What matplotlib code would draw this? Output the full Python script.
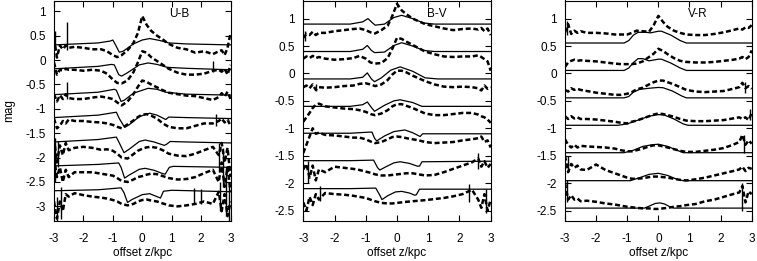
import matplotlib
matplotlib.use('Agg')
import matplotlib.pyplot as plt

plt.rcParams['font.family'] = ['Liberation Sans', 'DejaVu Sans']
plt.rcParams['axes.unicode_minus'] = False

# positions of the sampled observed profiles (kpc)
z_obs = [-3.0, -2.9, -2.8, -2.7, -2.6, -2.5, -2.3, -2.0, -1.7, -1.4, -1.2, -1.0, -0.85,
         -0.7, -0.5, -0.3, -0.15, 0.0, 0.15, 0.3, 0.5, 0.7, 0.9, 1.2, 1.5, 1.8, 2.1,
         2.4, 2.6, 2.7, 2.8, 2.9, 3.0]

# ---- U-B ----
ub_obs = [
    [0.45, 0.05, 0.3, 0.22, 0.3, 0.25, 0.27, 0.25, 0.22, 0.22, 0.18, 0.1, 0.06, 0.1, 0.2, 0.35, 0.55,
     0.9, 0.72, 0.6, 0.5, 0.42, 0.33, 0.25, 0.22, 0.15, 0.18, 0.12, 0.18, 0.2, 0.1, 0.25, 0.55],
    [-0.05, -0.3, -0.2, -0.22, -0.18, -0.2, -0.2, -0.22, -0.2, -0.22, -0.28, -0.4, -0.47, -0.48, -0.42,
     -0.25, -0.05, 0.18, 0.15, 0.06, -0.02, -0.1, -0.18, -0.26, -0.3, -0.3, -0.28, -0.22, -0.2, -0.24,
     -0.18, -0.3, -0.1],
    [-0.7, -0.85, -0.72, -0.8, -0.7, -0.78, -0.8, -0.8, -0.77, -0.75, -0.77, -0.8, -0.87, -0.93, -0.85,
     -0.7, -0.55, -0.42, -0.45, -0.5, -0.56, -0.62, -0.67, -0.7, -0.73, -0.74, -0.78, -0.82, -0.76,
     -0.68, -0.75, -0.65, -0.8],
    [-1.2, -1.4, -1.35, -1.25, -1.3, -1.22, -1.25, -1.25, -1.27, -1.28, -1.3, -1.33, -1.37, -1.4, -1.32,
     -1.24, -1.17, -1.12, -1.11, -1.14, -1.2, -1.3, -1.37, -1.4, -1.4, -1.35, -1.3, -1.3, -1.25, -1.2,
     -1.28, -1.22, -1.35],
    [-1.6, -2.1, -1.75, -1.95, -1.7, -1.85, -1.8, -1.78, -1.8, -1.84, -1.83, -1.86, -1.92, -2.0, -2.02,
     -1.93, -1.86, -1.82, -1.79, -1.78, -1.8, -1.85, -1.92, -1.96, -1.97, -1.92, -1.85, -1.78, -1.95,
     -1.7, -2.1, -1.8, -2.4],
    [-2.0, -2.4, -2.2, -2.5, -2.25, -2.4, -2.3, -2.3, -2.3, -2.33, -2.35, -2.37, -2.42, -2.48, -2.5,
     -2.45, -2.4, -2.38, -2.35, -2.33, -2.34, -2.38, -2.42, -2.45, -2.44, -2.4, -2.32, -2.25, -2.5,
     -2.1, -2.6, -2.2, -2.7],
    [-2.9, -3.25, -2.9, -3.1, -2.75, -2.8, -2.73, -2.77, -2.8, -2.82, -2.84, -2.87, -2.9, -2.95, -2.98,
     -2.95, -2.9, -2.87, -2.86, -2.88, -2.9, -2.94, -2.98, -3.0, -2.98, -2.95, -2.9, -2.95, -2.7,
     -3.1, -2.75, -3.2, -2.9],
]
ub_mod_z = [
    [-3, -1.5, -1.08, -1.0, -0.9, -0.78, -0.65, -0.3, 0.0, 0.25, 0.6, 0.9, 1.5, 3],
    [-3, -1.5, -1.05, -0.95, -0.8, -0.7, -0.5, -0.1, 0.2, 0.5, 0.85, 1.5, 3],
    [-3, -1.5, -0.95, -0.88, -0.72, -0.6, -0.3, 0.2, 0.5, 0.8, 1.5, 3],
    [-3, -1.5, -0.88, -0.78, -0.6, -0.45, -0.1, 0.25, 0.5, 0.8, 0.9, 1.5, 3],
    [-3, -1.5, -0.88, -0.78, -0.62, -0.45, -0.1, 0.1, 0.4, 0.75, 0.82, 0.95, 1.5, 3],
    [-3, -1.5, -0.8, -0.72, -0.6, -0.45, -0.1, 0.1, 0.4, 0.7, 0.78, 0.92, 1.05, 3],
    [-3, -1.5, -0.72, -0.62, -0.5, -0.35, 0.0, 0.25, 0.5, 0.62, 0.72, 1.0, 3],
]
ub_mod = [
    [0.31, 0.35, 0.39, 0.41, 0.3, 0.16, 0.18, 0.33, 0.41, 0.44, 0.4, 0.35, 0.33, 0.31],
    [-0.18, -0.13, -0.09, -0.1, -0.3, -0.33, -0.26, -0.1, -0.06, -0.09, -0.15, -0.17, -0.2],
    [-0.71, -0.66, -0.6, -0.62, -0.85, -0.82, -0.68, -0.58, -0.6, -0.66, -0.7, -0.72],
    [-1.18, -1.13, -1.07, -1.2, -1.38, -1.33, -1.16, -1.09, -1.13, -1.22, -1.17, -1.18, -1.2],
    [-1.68, -1.63, -1.58, -1.7, -1.9, -1.83, -1.67, -1.64, -1.68, -1.75, -1.73, -1.67, -1.68, -1.7],
    [-2.17, -2.14, -2.11, -2.2, -2.42, -2.36, -2.24, -2.22, -2.26, -2.33, -2.34, -2.2, -2.18, -2.2],
    [-2.68, -2.66, -2.62, -2.72, -2.92, -2.86, -2.76, -2.74, -2.8, -2.83, -2.69, -2.67, -2.7],
]
# noise spikes in the observed U-B profiles: z, low, high
ub_spikes = [(-2.55, 0.2, 0.78), (-2.55, -0.8, -0.45), (2.4, -0.25, -0.02), (2.5, -1.35, -1.1),
             (-2.95, -2.5, -1.6), (-2.85, -2.2, -1.65), (-2.75, -3.25, -2.6), (-2.9, -3.3, -2.8),
             (1.75, -2.95, -2.62), (2.0, -2.95, -2.65), (2.6, -2.3, -1.7), (2.75, -2.6, -1.8),
             (2.85, -3.2, -2.2), (2.95, -3.3, -2.5), (2.65, -3.1, -2.5), (-2.97, 0.2, 0.6)]

# ---- B-V ----
bv_obs = [
    [0.65, 0.72, 0.7, 0.76, 0.7, 0.74, 0.74, 0.77, 0.79, 0.81, 0.82, 0.79, 0.75, 0.73, 0.79, 0.87, 1.05,
     1.27, 1.15, 1.08, 1.0, 0.95, 0.9, 0.86, 0.82, 0.79, 0.81, 0.82, 0.8, 0.83, 0.77, 0.82, 0.7],
    [0.27, 0.31, 0.28, 0.32, 0.28, 0.3, 0.27, 0.25, 0.26, 0.28, 0.32, 0.27, 0.2, 0.18, 0.19, 0.28, 0.45,
     0.65, 0.63, 0.58, 0.52, 0.46, 0.4, 0.35, 0.31, 0.3, 0.31, 0.31, 0.33, 0.3, 0.26, 0.22, 0.05],
    [-0.25, -0.22, -0.27, -0.2, -0.3, -0.25, -0.26, -0.25, -0.23, -0.22, -0.19, -0.18, -0.2, -0.23,
     -0.2, -0.12, -0.02, 0.05, 0.05, 0.02, -0.04, -0.09, -0.14, -0.2, -0.24, -0.25, -0.24, -0.25,
     -0.27, -0.31, -0.22, -0.28, -0.25],
    [-0.88, -0.8, -0.72, -0.63, -0.57, -0.55, -0.6, -0.62, -0.64, -0.65, -0.67, -0.7, -0.74, -0.76,
     -0.73, -0.67, -0.6, -0.56, -0.56, -0.59, -0.63, -0.68, -0.73, -0.76, -0.76, -0.74, -0.72, -0.72,
     -0.75, -0.78, -0.8, -0.84, -0.9],
    [-1.45, -1.3, -1.15, -1.0, -1.1, -1.08, -1.12, -1.13, -1.15, -1.17, -1.17, -1.2, -1.24, -1.27,
     -1.25, -1.2, -1.16, -1.15, -1.16, -1.18, -1.2, -1.22, -1.25, -1.27, -1.26, -1.25, -1.22, -1.2,
     -1.18, -1.15, -1.25, -1.22, -1.35],
    [-1.75, -1.65, -1.9, -1.68, -1.95, -1.75, -1.8, -1.7, -1.72, -1.74, -1.76, -1.79, -1.81, -1.84,
     -1.86, -1.86, -1.85, -1.84, -1.83, -1.82, -1.82, -1.84, -1.86, -1.85, -1.8, -1.74, -1.68, -1.62,
     -1.55, -1.7, -1.6, -1.72, -1.65],
    [-2.35, -2.5, -2.25, -2.4, -2.2, -2.3, -2.18, -2.2, -2.21, -2.23, -2.25, -2.27, -2.3, -2.33, -2.36,
     -2.37, -2.37, -2.36, -2.35, -2.34, -2.33, -2.32, -2.31, -2.29, -2.27, -2.24, -2.2, -2.12, -2.3,
     -2.45, -2.2, -2.5, -2.3],
]
bv_mod_z = [
    [-3, -1.5, -1.1, -0.93, -0.8, -0.7, -0.4, -0.1, 0.15, 0.5, 0.85, 1.2, 3],
    [-3, -1.5, -1.1, -0.95, -0.82, -0.72, -0.4, -0.1, 0.15, 0.5, 0.85, 1.2, 3],
    [-3, -1.5, -1.1, -0.95, -0.82, -0.72, -0.5, -0.2, 0.1, 0.5, 0.9, 1.3, 3],
    [-3, -1.5, -1.1, -0.95, -0.82, -0.72, -0.4, -0.1, 0.1, 0.5, 0.8, 0.9, 3],
    [-3, -1.5, -0.9, -0.8, -0.72, -0.65, -0.4, -0.1, 0.25, 0.5, 0.74, 0.82, 1.0, 3],
    [-3, -1.5, -0.75, -0.62, -0.55, -0.35, -0.1, 0.1, 0.4, 0.65, 0.72, 0.8, 3],
    [-3, -1.5, -0.68, -0.55, -0.48, -0.3, -0.05, 0.15, 0.4, 0.57, 0.62, 0.72, 3],
]
bv_mod = [
    [0.9, 0.9, 0.94, 1.0, 0.93, 0.88, 0.9, 1.02, 1.06, 1.0, 0.92, 0.9, 0.9],
    [0.4, 0.4, 0.44, 0.51, 0.42, 0.38, 0.39, 0.51, 0.56, 0.5, 0.42, 0.4, 0.4],
    [-0.1, -0.1, -0.07, 0.01, -0.1, -0.15, -0.08, 0.06, 0.12, 0.04, -0.08, -0.1, -0.1],
    [-0.6, -0.6, -0.57, -0.52, -0.62, -0.69, -0.58, -0.5, -0.48, -0.53, -0.6, -0.6, -0.6],
    [-1.09, -1.09, -1.07, -1.07, -1.18, -1.23, -1.14, -1.06, -1.03, -1.08, -1.15, -1.1, -1.1, -1.1],
    [-1.59, -1.59, -1.58, -1.72, -1.76, -1.7, -1.63, -1.61, -1.64, -1.69, -1.69, -1.61, -1.6],
    [-2.1, -2.1, -2.09, -2.22, -2.3, -2.23, -2.16, -2.15, -2.18, -2.22, -2.21, -2.11, -2.11],
]
bv_spikes = [(-2.95, 0.6, 0.78), (-2.45, -2.32, -2.05), (2.3, -2.35, -2.02), (2.6, -1.75, -1.45),
             (2.85, -2.55, -2.1), (-2.85, -2.0, -1.6), (-2.6, -0.32, -0.2)]

# ---- V-R ----
vr_obs = [
    [0.75, 0.9, 0.72, 0.78, 0.74, 0.77, 0.74, 0.74, 0.73, 0.71, 0.71, 0.71, 0.74, 0.78, 0.77, 0.76,
     0.88, 1.05, 0.94, 0.85, 0.78, 0.74, 0.71, 0.7, 0.7, 0.72, 0.75, 0.79, 0.82, 0.8, 0.84, 0.83, 0.88],
    [0.12, 0.2, 0.23, 0.25, 0.23, 0.24, 0.23, 0.22, 0.2, 0.18, 0.17, 0.17, 0.17, 0.18, 0.22, 0.3, 0.36,
     0.45, 0.41, 0.35, 0.28, 0.23, 0.21, 0.2, 0.2, 0.21, 0.23, 0.25, 0.27, 0.3, 0.26, 0.3, 0.42],
    [-0.3, -0.33, -0.27, -0.3, -0.28, -0.3, -0.32, -0.35, -0.37, -0.39, -0.39, -0.37, -0.34, -0.29,
     -0.26, -0.2, -0.16, -0.13, -0.13, -0.16, -0.2, -0.25, -0.3, -0.33, -0.34, -0.33, -0.32, -0.28,
     -0.25, -0.17, -0.27, -0.23, -0.28],
    [-0.78, -0.83, -0.78, -0.82, -0.8, -0.83, -0.83, -0.84, -0.86, -0.88, -0.9, -0.91, -0.88, -0.86,
     -0.82, -0.78, -0.75, -0.73, -0.74, -0.76, -0.79, -0.83, -0.86, -0.87, -0.87, -0.86, -0.85, -0.82,
     -0.8, -0.83, -0.8, -0.85, -0.72],
    [-1.2, -1.3, -1.35, -1.3, -1.35, -1.32, -1.33, -1.34, -1.35, -1.37, -1.4, -1.42, -1.42, -1.4,
     -1.37, -1.33, -1.31, -1.31, -1.33, -1.35, -1.38, -1.41, -1.43, -1.43, -1.41, -1.39, -1.36, -1.3,
     -1.25, -1.12, -1.3, -1.22, -1.28],
    [-1.5, -1.8, -1.65, -1.72, -1.68, -1.75, -1.76, -1.66, -1.76, -1.82, -1.86, -1.9, -1.92, -1.92,
     -1.91, -1.89, -1.88, -1.88, -1.89, -1.9, -1.92, -1.94, -1.95, -1.93, -1.9, -1.86, -1.82, -1.78,
     -1.75, -1.7, -1.78, -1.72, -1.74],
    [-2.0, -2.3, -2.22, -2.3, -2.28, -2.33, -2.32, -2.34, -2.37, -2.39, -2.41, -2.43, -2.44, -2.45,
     -2.46, -2.46, -2.47, -2.47, -2.46, -2.45, -2.43, -2.42, -2.4, -2.38, -2.33, -2.3, -2.25, -2.2,
     -2.17, -2.05, -2.35, -2.15, -2.2],
]
vr_mod_z = [
    [-3, -1.1, -0.95, -0.8, -0.65, -0.4, -0.25, 0.0, 0.1, 0.4, 0.7, 0.9, 3],
    [-3, -1.1, -0.95, -0.8, -0.65, -0.5, -0.3, 0.0, 0.1, 0.4, 0.7, 0.9, 3],
    [-3, -1.1, -0.95, -0.8, -0.6, -0.3, 0.0, 0.15, 0.45, 0.75, 0.9, 3],
    [-3, -1.3, -1.0, -0.6, -0.3, 0.0, 0.2, 0.5, 0.8, 0.95, 3],
    [-3, -1.1, -0.8, -0.5, -0.2, 0.0, 0.3, 0.6, 0.8, 3],
    [-3, -0.9, -0.6, -0.3, 0.0, 0.3, 0.6, 0.8, 3],
    [-3, -0.45, -0.3, -0.1, 0.05, 0.2, 0.4, 0.5, 3],
]
vr_mod = [
    [0.555, 0.555, 0.6, 0.7, 0.75, 0.75, 0.74, 0.77, 0.77, 0.7, 0.6, 0.555, 0.555],
    [0.055, 0.055, 0.1, 0.2, 0.27, 0.27, 0.23, 0.26, 0.26, 0.19, 0.1, 0.055, 0.055],
    [-0.445, -0.445, -0.42, -0.34, -0.29, -0.27, -0.255, -0.26, -0.32, -0.41, -0.445, -0.445],
    [-0.945, -0.945, -0.92, -0.84, -0.78, -0.75, -0.76, -0.83, -0.92, -0.945, -0.945],
    [-1.445, -1.445, -1.4, -1.33, -1.3, -1.29, -1.33, -1.4, -1.445, -1.445],
    [-1.955, -1.955, -1.9, -1.84, -1.82, -1.86, -1.93, -1.955, -1.955],
    [-2.455, -2.455, -2.42, -2.37, -2.36, -2.38, -2.44, -2.455, -2.455],
]
vr_spikes = [(-2.95, 0.7, 0.95), (-2.95, -2.35, -1.95), (-2.9, -1.8, -1.5), (2.7, -2.5, -2.0),
             (2.75, -1.45, -1.12), (2.95, -0.85, -0.65), (2.8, -0.35, -0.15)]

colours = ['U-B', 'B-V', 'V-R']
panels = [
    (ub_obs, ub_mod_z, ub_mod, ub_spikes, (-3.3, 1.22), [1, 0.5, 0, -0.5, -1, -1.5, -2, -2.5, -3]),
    (bv_obs, bv_mod_z, bv_mod, bv_spikes, (-2.69, 1.33), [1, 0.5, 0, -0.5, -1, -1.5, -2, -2.5]),
    (vr_obs, vr_mod_z, vr_mod, vr_spikes, (-2.69, 1.33), [1, 0.5, 0, -0.5, -1, -1.5, -2, -2.5]),
]

W, H = 757, 261
fig = plt.figure(figsize=(W / 100, H / 100), dpi=100)
boxes = [(54, 230.5), (303.3, 490.7), (565, 751.7)]
top, bottom = 0.5, 221

for (left, right), name, (obs, mz, mod, spikes, ylim, yt) in zip(boxes, colours, panels):
    ax = fig.add_axes([left / W, 1 - bottom / H, (right - left) / W, (bottom - top) / H])
    for i in range(len(obs)):
        ax.plot(mz[i], mod[i], color='black', lw=0.9)
        ax.plot(z_obs, obs[i], color='black', lw=1.8, linestyle=(0, (2.0, 1.1)))
    sz, slo, shi = zip(*spikes)
    ax.vlines(sz, slo, shi, color='black', lw=1.0)
    ax.set_xlim(-3, 3)
    ax.set_ylim(*ylim)
    ax.set_xticks([-3, -2, -1, 0, 1, 2, 3])
    ax.set_yticks(yt)
    ax.set_yticklabels([('%g' % v) for v in yt])
    ax.tick_params(direction='in', length=4, width=0.8, top=True, right=True, labelsize=8.5)
    ax.tick_params(axis='x', pad=9)
    ax.tick_params(axis='y', pad=6)
    for s in ax.spines.values():
        s.set_linewidth(0.8)
    ax.text(0.71, 0.94, name, transform=ax.transAxes, ha='center', va='center', fontsize=8.5)
    fig.text((left + right) / 2 / W, 1 - 253 / H, 'offset z/kpc', ha='center', va='center',
             fontsize=8.5)
    if name == 'U-B':
        ax.set_ylabel('mag', fontsize=8.5, labelpad=7)

fig.savefig('out.png', dpi=100)
